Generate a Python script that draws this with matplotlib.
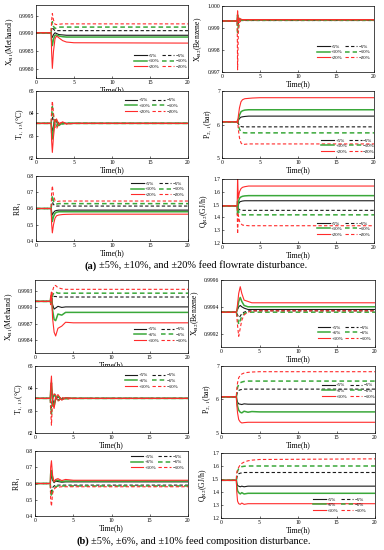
import matplotlib
matplotlib.use("Agg")
import matplotlib.pyplot as plt
import matplotlib.ticker as ticker

plt.rcParams['font.family'] = ['Liberation Serif', 'DejaVu Serif']
plt.rcParams['mathtext.fontset'] = 'stix'

t = [0, 2.0, 2.05, 2.15, 2.3, 2.5, 2.7, 3.0, 3.5, 4.0, 5.0, 20]

# ---- (a) feed flowrate disturbance: order +5, -5, +10, -10, +20, -20
xb1_flow = [
    [0.99902, 0.99902, 0.99893, 0.99889, 0.99897, 0.99902, 0.99900, 0.99897, 0.99896, 0.99895, 0.99895, 0.99895],
    [0.99902, 0.99902, 0.99912, 0.99918, 0.99912, 0.99908, 0.99908, 0.99908, 0.99908, 0.99908, 0.99908, 0.99908],
    [0.99902, 0.99902, 0.99880, 0.99866, 0.99884, 0.99895, 0.99896, 0.99893, 0.99891, 0.99890, 0.99890, 0.99890],
    [0.99902, 0.99902, 0.99922, 0.99933, 0.99920, 0.99914, 0.99916, 0.99918, 0.99918, 0.99918, 0.99918, 0.99918],
    [0.99902, 0.99902, 0.99850, 0.99802, 0.99850, 0.99885, 0.99893, 0.99888, 0.99880, 0.99876, 0.99874, 0.99873],
    [0.99902, 0.99902, 0.99935, 0.99956, 0.99938, 0.99926, 0.99925, 0.99926, 0.99927, 0.99927, 0.99927, 0.99927],
]
xb2_flow = [
    [0.99932, 0.99932, 0.99950, 0.99934, 0.99938, 0.99937, 0.99936, 0.99936, 0.99936, 0.99936, 0.99936, 0.99936],
    [0.99932, 0.99932, 0.99905, 0.99920, 0.99932, 0.99934, 0.99934, 0.99934, 0.99934, 0.99934, 0.99934, 0.99934],
    [0.99932, 0.99932, 0.99960, 0.99928, 0.99940, 0.99938, 0.99937, 0.99937, 0.99937, 0.99937, 0.99937, 0.99937],
    [0.99932, 0.99932, 0.99880, 0.99912, 0.99930, 0.99935, 0.99935, 0.99935, 0.99935, 0.99935, 0.99935, 0.99935],
    [0.99932, 0.99932, 0.99978, 0.99922, 0.99945, 0.99940, 0.99938, 0.99938, 0.99938, 0.99938, 0.99938, 0.99938],
    [0.99932, 0.99932, 0.99710, 0.99880, 0.99925, 0.99936, 0.99937, 0.99937, 0.99937, 0.99937, 0.99937, 0.99937],
]
t113_flow = [
    [63.55, 63.55, 63.35, 63.20, 63.45, 63.70, 63.62, 63.50, 63.56, 63.55, 63.55, 63.55],
    [63.55, 63.55, 63.70, 63.85, 63.65, 63.45, 63.50, 63.60, 63.54, 63.55, 63.55, 63.55],
    [63.55, 63.55, 63.15, 62.85, 63.30, 63.72, 63.68, 63.45, 63.58, 63.54, 63.55, 63.55],
    [63.55, 63.55, 63.85, 64.30, 63.85, 63.40, 63.42, 63.62, 63.52, 63.56, 63.55, 63.55],
    [63.55, 63.55, 62.80, 62.25, 62.95, 63.60, 63.75, 63.50, 63.62, 63.53, 63.55, 63.55],
    [63.55, 63.55, 64.10, 64.55, 64.00, 63.40, 63.30, 63.55, 63.60, 63.52, 63.55, 63.55],
]
p21_flow = [
    [6.08, 6.08, 6.06, 6.12, 6.18, 6.22, 6.23, 6.24, 6.25, 6.25, 6.25, 6.25],
    [6.08, 6.08, 6.10, 6.03, 5.97, 5.94, 5.93, 5.93, 5.93, 5.93, 5.93, 5.93],
    [6.08, 6.08, 6.05, 6.15, 6.28, 6.38, 6.41, 6.43, 6.44, 6.44, 6.44, 6.44],
    [6.08, 6.08, 6.12, 5.98, 5.86, 5.78, 5.76, 5.75, 5.75, 5.75, 5.75, 5.75],
    [6.08, 6.08, 6.04, 6.25, 6.50, 6.68, 6.74, 6.77, 6.78, 6.79, 6.80, 6.80],
    [6.08, 6.08, 6.14, 5.85, 5.60, 5.45, 5.40, 5.41, 5.42, 5.42, 5.42, 5.42],
]
rr1_flow = [
    [0.600, 0.600, 0.580, 0.560, 0.575, 0.585, 0.588, 0.590, 0.590, 0.590, 0.590, 0.590],
    [0.600, 0.600, 0.620, 0.640, 0.625, 0.617, 0.615, 0.615, 0.615, 0.615, 0.615, 0.615],
    [0.600, 0.600, 0.560, 0.520, 0.550, 0.570, 0.577, 0.580, 0.580, 0.580, 0.580, 0.580],
    [0.600, 0.600, 0.640, 0.680, 0.645, 0.630, 0.628, 0.630, 0.630, 0.630, 0.630, 0.630],
    [0.600, 0.600, 0.510, 0.450, 0.500, 0.540, 0.555, 0.560, 0.563, 0.564, 0.565, 0.565],
    [0.600, 0.600, 0.690, 0.740, 0.680, 0.650, 0.642, 0.645, 0.646, 0.646, 0.646, 0.646],
]
qr2_flow = [
    [1.49, 1.49, 1.46, 1.50, 1.52, 1.525, 1.528, 1.53, 1.53, 1.53, 1.53, 1.53],
    [1.49, 1.49, 1.51, 1.47, 1.46, 1.457, 1.455, 1.455, 1.455, 1.455, 1.455, 1.455],
    [1.49, 1.49, 1.42, 1.52, 1.55, 1.56, 1.565, 1.568, 1.57, 1.57, 1.57, 1.57],
    [1.49, 1.49, 1.54, 1.45, 1.43, 1.425, 1.42, 1.42, 1.42, 1.42, 1.42, 1.42],
    [1.49, 1.49, 1.70, 1.55, 1.60, 1.625, 1.635, 1.64, 1.645, 1.645, 1.645, 1.645],
    [1.49, 1.49, 1.27, 1.42, 1.37, 1.35, 1.34, 1.338, 1.335, 1.335, 1.335, 1.335],
]

# ---- (b) feed composition disturbance: order +5, -5, +6, -6, +10, -10
xb1_comp = [
    [0.99911, 0.99911, 0.99915, 0.99918, 0.99905, 0.99897, 0.99899, 0.99902, 0.99900, 0.99901, 0.99901, 0.99901],
    [0.99911, 0.99911, 0.99910, 0.99912, 0.99918, 0.99920, 0.99920, 0.99919, 0.99919, 0.99919, 0.99919, 0.99919],
    [0.99911, 0.99911, 0.99918, 0.99922, 0.99895, 0.99878, 0.99876, 0.99888, 0.99886, 0.99891, 0.99891, 0.99891],
    [0.99911, 0.99911, 0.99908, 0.99912, 0.99922, 0.99928, 0.99928, 0.99926, 0.99926, 0.99926, 0.99926, 0.99926],
    [0.99911, 0.99911, 0.99920, 0.99928, 0.99880, 0.99855, 0.99848, 0.99862, 0.99866, 0.99873, 0.99872, 0.99872],
    [0.99911, 0.99911, 0.99905, 0.99915, 0.99930, 0.99940, 0.99940, 0.99936, 0.99934, 0.99933, 0.99933, 0.99933],
]
xb2_comp = [
    [0.99936, 0.99936, 0.99937, 0.99938, 0.99940, 0.99941, 0.99940, 0.99939, 0.99938, 0.99938, 0.99938, 0.99938],
    [0.99936, 0.99936, 0.99935, 0.99934, 0.99932, 0.99933, 0.99935, 0.99936, 0.99937, 0.99937, 0.99937, 0.99937],
    [0.99936, 0.99936, 0.99937, 0.99939, 0.99944, 0.99947, 0.99944, 0.99941, 0.99940, 0.99940, 0.99940, 0.99940],
    [0.99936, 0.99936, 0.99934, 0.99932, 0.99927, 0.99930, 0.99933, 0.99935, 0.99936, 0.99936, 0.99936, 0.99936],
    [0.99936, 0.99936, 0.99937, 0.99942, 0.99950, 0.99955, 0.99950, 0.99945, 0.99944, 0.99943, 0.99943, 0.99943],
    [0.99936, 0.99936, 0.99933, 0.99926, 0.99918, 0.99924, 0.99930, 0.99934, 0.99936, 0.99937, 0.99937, 0.99937],
]
t113_comp = [
    [63.55, 63.55, 63.80, 64.00, 63.50, 63.30, 63.50, 63.62, 63.52, 63.56, 63.55, 63.55],
    [63.55, 63.55, 63.30, 63.15, 63.55, 63.75, 63.60, 63.48, 63.57, 63.54, 63.55, 63.55],
    [63.55, 63.55, 63.90, 64.25, 63.40, 63.20, 63.55, 63.65, 63.50, 63.57, 63.55, 63.55],
    [63.55, 63.55, 63.20, 62.85, 63.60, 63.80, 63.60, 63.45, 63.58, 63.53, 63.55, 63.55],
    [63.55, 63.55, 64.10, 64.55, 63.30, 63.10, 63.60, 63.72, 63.47, 63.58, 63.55, 63.55],
    [63.55, 63.55, 63.00, 62.35, 63.50, 63.75, 63.70, 63.40, 63.60, 63.52, 63.55, 63.55],
]
p21_comp = [
    [6.08, 6.08, 6.00, 5.92, 5.87, 5.86, 5.85, 5.87, 5.86, 5.86, 5.86, 5.86],
    [6.08, 6.08, 6.15, 6.22, 6.27, 6.29, 6.30, 6.31, 6.31, 6.31, 6.31, 6.31],
    [6.08, 6.08, 5.95, 5.80, 5.68, 5.62, 5.60, 5.65, 5.62, 5.64, 5.63, 5.63],
    [6.08, 6.08, 6.20, 6.36, 6.45, 6.50, 6.52, 6.54, 6.55, 6.55, 6.55, 6.55],
    [6.08, 6.08, 5.85, 5.60, 5.40, 5.33, 5.30, 5.31, 5.32, 5.32, 5.32, 5.32],
    [6.08, 6.08, 6.30, 6.50, 6.65, 6.72, 6.76, 6.79, 6.81, 6.82, 6.83, 6.83],
]
rr1_comp = [
    [0.600, 0.600, 0.630, 0.650, 0.620, 0.605, 0.615, 0.612, 0.608, 0.610, 0.610, 0.610],
    [0.600, 0.600, 0.570, 0.550, 0.575, 0.585, 0.590, 0.590, 0.590, 0.590, 0.590, 0.590],
    [0.600, 0.600, 0.660, 0.680, 0.630, 0.610, 0.620, 0.620, 0.612, 0.615, 0.615, 0.615],
    [0.600, 0.600, 0.550, 0.520, 0.560, 0.575, 0.580, 0.585, 0.585, 0.585, 0.585, 0.585],
    [0.600, 0.600, 0.700, 0.740, 0.650, 0.610, 0.625, 0.630, 0.618, 0.625, 0.620, 0.620],
    [0.600, 0.600, 0.500, 0.460, 0.540, 0.565, 0.575, 0.578, 0.580, 0.580, 0.580, 0.580],
]
qr2_comp = [
    [1.49, 1.49, 1.47, 1.45, 1.445, 1.440, 1.445, 1.440, 1.445, 1.445, 1.445, 1.445],
    [1.49, 1.49, 1.51, 1.53, 1.540, 1.545, 1.547, 1.550, 1.550, 1.550, 1.550, 1.550],
    [1.49, 1.49, 1.45, 1.41, 1.395, 1.385, 1.395, 1.385, 1.390, 1.390, 1.390, 1.390],
    [1.49, 1.49, 1.53, 1.56, 1.580, 1.590, 1.595, 1.598, 1.600, 1.600, 1.600, 1.600],
    [1.49, 1.49, 1.40, 1.33, 1.310, 1.305, 1.315, 1.305, 1.310, 1.310, 1.310, 1.310],
    [1.49, 1.49, 1.55, 1.57, 1.590, 1.610, 1.620, 1.630, 1.640, 1.645, 1.650, 1.655],
]

labels_flow = ['+5%', '−5%', '+10%', '−10%', '+20%', '−20%']
labels_comp = ['+5%', '−5%', '+6%', '−6%', '+10%', '−10%']

ylab_xb1 = r'X$_{\mathrm{B1}}$(Methanol)'
ylab_xb2 = r'X$_{\mathrm{B2}}$(Benzene)'
ylab_t = r'T$_{\mathrm{1,\ 13}}$(°C)'
ylab_p = r'P$_{\mathrm{2,\ 1}}$(bar)'
ylab_rr = r'RR$_{\mathrm{1}}$'
ylab_q = r'Q$_{\mathrm{R2}}$(GJ/h)'

colors = ['#1a1a1a', '#1a1a1a', '#3aa83a', '#3aa83a', '#ff2b2b', '#ff2b2b']
widths = [0.8, 0.8, 1.1, 1.1, 0.8, 0.8]

W, H = 384, 550
fig = plt.figure(figsize=(W / 100, H / 100), dpi=100)
fig.patch.set_facecolor('white')


def box(x0, y0, x1, y1):
    return [x0 / W, 1 - y1 / H, (x1 - x0) / W, (y1 - y0) / H]


def panel(rect, series, labels, ylim, yticks, fmt, ylabel, leg_xy):
    ax = fig.add_axes(box(*rect))
    lines = []
    for i, s in enumerate(series):
        ls = '-' if i % 2 == 0 else (0, (3, 2))
        ln, = ax.plot(t, s, color=colors[i], lw=widths[i], linestyle=ls)
        lines.append(ln)
    ax.set_xlim(0, 20)
    ax.set_ylim(*ylim)
    ax.set_xticks([0, 5, 10, 15, 20])
    ax.set_yticks(yticks)
    ax.yaxis.set_major_formatter(ticker.FormatStrFormatter(fmt))
    ax.tick_params(labelsize=4, length=1.5, width=0.4, direction='in', pad=1.5)
    for sp in ax.spines.values():
        sp.set_linewidth(0.5)
    ax.set_xlabel('Time(h)', fontsize=5.5, labelpad=1)
    ax.set_ylabel(ylabel, fontsize=5.5, labelpad=2)
    order = [0, 2, 4, 1, 3, 5]
    ax.legend([lines[k] for k in order], [labels[k] for k in order], ncol=2,
              loc='center', bbox_to_anchor=leg_xy, frameon=False, fontsize=3.5,
              handlelength=2.6, columnspacing=0.4, labelspacing=0.25,
              handletextpad=0.3, borderpad=0.2)
    return ax


# (a) flowrate disturbance
panel((36, 5, 188, 78), xb1_flow, labels_flow, (0.99775, 0.99980),
      [0.9980, 0.9985, 0.9990, 0.9995], '%.4f', ylab_xb1, (0.82, 0.23))
panel((222, 6, 374, 72), xb2_flow, labels_flow, (0.997, 1.000),
      [0.997, 0.998, 0.999, 1.000], '%.3f', ylab_xb2, (0.80, 0.30))
panel((36, 91, 188, 158), t113_flow, labels_flow, (62, 65),
      [62, 63, 64, 65], '%d', ylab_t, (0.76, 0.78))
panel((222, 91, 374, 158), p21_flow, labels_flow, (5, 7),
      [5, 6, 7], '%d', ylab_p, (0.83, 0.18))
panel((36, 176, 188, 241), rr1_flow, labels_flow, (0.4, 0.8),
      [0.4, 0.5, 0.6, 0.7, 0.8], '%.1f', ylab_rr, (0.80, 0.80))
panel((222, 179, 374, 243), qr2_flow, labels_flow, (1.2, 1.7),
      [1.2, 1.3, 1.4, 1.5, 1.6, 1.7], '%.1f', ylab_q, (0.80, 0.22))

# (b) composition disturbance
panel((35, 280, 188, 353), xb1_comp, labels_comp, (0.99817, 0.99950),
      [0.9984, 0.9987, 0.9990, 0.9993], '%.4f', ylab_xb1, (0.82, 0.25))
panel((221, 280, 375, 347), xb2_comp, labels_comp, (0.99910, 0.99960),
      [0.9992, 0.9994, 0.9996], '%.4f', ylab_xb2, (0.80, 0.21))
panel((35, 366, 188, 433), t113_comp, labels_comp, (62, 65),
      [62, 63, 64, 65], '%d', ylab_t, (0.76, 0.78))
panel((221, 366, 375, 433), p21_comp, labels_comp, (5, 7),
      [5, 6, 7], '%d', ylab_p, (0.83, 0.63))
panel((35, 451, 188, 516), rr1_comp, labels_comp, (0.4, 0.8),
      [0.4, 0.5, 0.6, 0.7, 0.8], '%.1f', ylab_rr, (0.80, 0.83))
panel((221, 453, 375, 518), qr2_comp, labels_comp, (1.2, 1.7),
      [1.2, 1.3, 1.4, 1.5, 1.6, 1.7], '%.1f', ylab_q, (0.77, 0.20))

# captions
fig.text(97 / W, 1 - 266 / H, '(a)', ha='right', va='center', fontsize=7.5, weight='bold')
fig.text(99 / W, 1 - 266 / H, '±5%, ±10%, and ±20% feed flowrate disturbance.',
         ha='left', va='center', fontsize=7.5)
fig.text(89 / W, 1 - 541 / H, '(b)', ha='right', va='center', fontsize=7.5, weight='bold')
fig.text(91 / W, 1 - 541 / H, '±5%, ±6%, and ±10% feed composition disturbance.',
         ha='left', va='center', fontsize=7.5)

fig.savefig('out.png', dpi=100)
